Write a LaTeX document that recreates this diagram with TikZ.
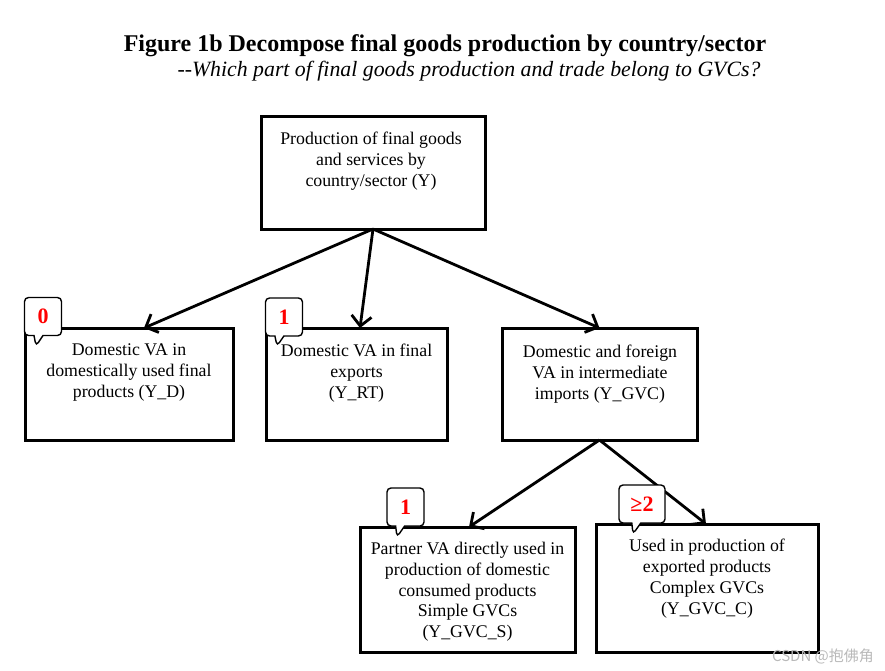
\documentclass[tikz,border=0pt]{standalone}
\usepackage{fontspec}
\setmainfont{Liberation Serif}
\newfontfamily\cjk{Noto Sans CJK SC}
\usetikzlibrary{shapes.callouts,arrows.meta}

\begin{document}
\begin{tikzpicture}[x=1pt,y=-1pt,
    box/.style={draw,line width=3pt,inner sep=0pt,outer sep=0pt},
    txt/.style={align=center,anchor=north,inner sep=0pt,font=\fontsize{17.8}{20.8}\selectfont},
    tag/.style={rectangle callout,draw,line width=1.4pt,rounded corners=4pt,fill=white,
        minimum height=38pt,inner sep=0pt,callout pointer width=9pt,
        text=red,font=\fontsize{22}{24}\selectfont\bfseries},
    arr/.style={line width=2.8pt,-{Straight Barb[length=10pt,width=20pt,line width=2.8pt]}}]
\useasboundingbox (0,0) rectangle (885,671);
% title
\node[font=\fontsize{24}{27}\selectfont\bfseries] (ttl) at (445,46)
    {Figure 1b Decompose final goods production by country/sector};
\node[anchor=east,font=\fontsize{21.8}{24}\selectfont] (sub) at (764,71)
    {-{}-\textit{Which part of final goods production and trade belong to GVCs?}};
% boxes
\node[box,minimum width=224pt,minimum height=112pt] (Y) at (373,173) {};
\node[box,minimum width=208pt,minimum height=112pt] (D) at (129,384) {};
\node[box,minimum width=181pt,minimum height=112pt] (RT) at (356.5,384) {};
\node[box,minimum width=195pt,minimum height=112pt] (G) at (599.5,384) {};
\node[box,minimum width=215pt,minimum height=125pt] (S) at (467.5,589.5) {};
\node[box,minimum width=222pt,minimum height=128pt] (C) at (707,588) {};
% texts
\node[txt] (tY) at (371,132) {Production of final goods\\and services by\\country/sector (Y)};
\node[txt] (tD) at (129,344) {Domestic VA in\\domestically used final\\products (Y\_D)};
\node[txt] (tRT) at (356.5,344) {Domestic VA in final\\exports\\(Y\_RT)};
\node[txt] (tG) at (600,345) {Domestic and foreign\\VA in intermediate\\imports (Y\_GVC)};
\node[txt] (tS) at (467.5,542) {Partner VA directly used in\\production of domestic\\consumed products\\Simple GVCs\\(Y\_GVC\_S)};
\node[txt] (tC) at (707,539) {Used in production of\\exported products\\Complex GVCs\\(Y\_GVC\_C)};
% arrows
\draw[arr] (Y.south) -- ([xshift=15pt]D.north);
\draw[arr] (Y.south) -- ([xshift=3.5pt]RT.north);
\draw[arr] (Y.south) -- (G.north);
\draw[arr] (G.south) -- ([xshift=1.5pt]S.north);
\draw[arr] (G.south) -- ([xshift=-1pt]C.north);
% badges
\node[tag,minimum width=37pt,callout absolute pointer={(36,346)}] (b0) at (43,316.5) {0};
\node[tag,minimum width=37pt,callout absolute pointer={(277,346)}] (b1) at (284,317) {1};
\node[tag,minimum width=37pt,callout absolute pointer={(397,537)}] (b2) at (405.5,507) {1};
\node[tag,minimum width=46pt,callout absolute pointer={(633,534)}] (b3) at (642,504) {≥2};
% watermark
\node[text=gray!55,font=\cjk\fontsize{15}{17}\selectfont] (wm) at (823,656) {CSDN @抱佛角};
\end{tikzpicture}
\end{document}
